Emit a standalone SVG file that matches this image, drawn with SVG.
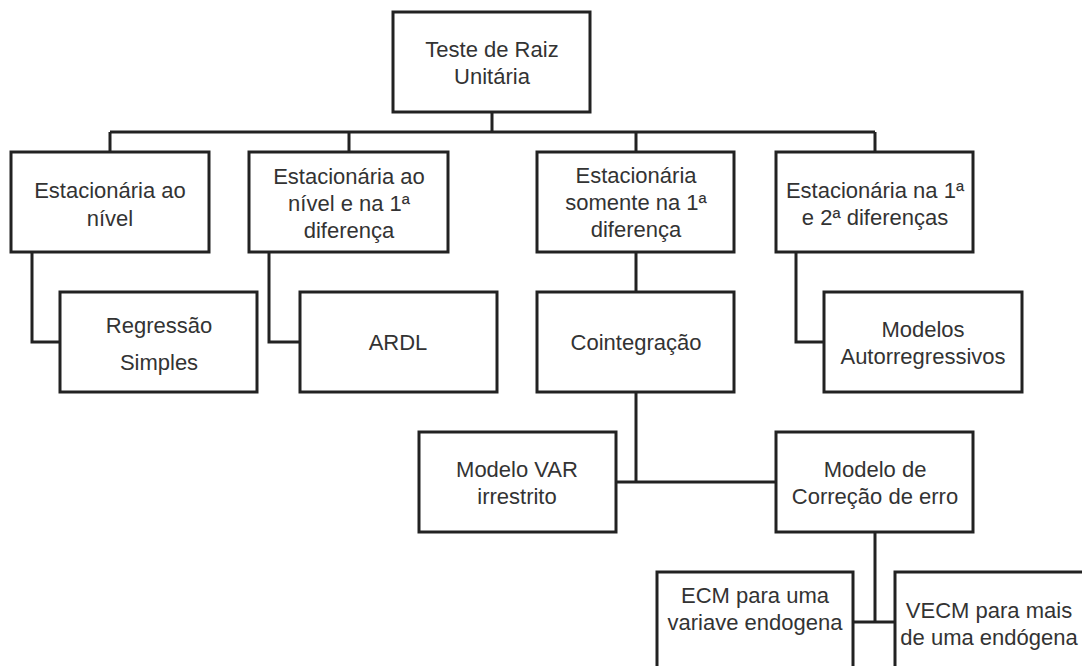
<svg xmlns="http://www.w3.org/2000/svg" width="1082" height="666" viewBox="0 0 1082 666">
<style>
.box{fill:#fff;stroke:#222;stroke-width:3}
.ln{fill:none;stroke:#222;stroke-width:3}
text{font-family:"Liberation Sans",Arial,sans-serif;font-size:22px;fill:#333;text-anchor:middle}
</style>
<rect width="1082" height="666" fill="#fff"/>
<g id="connectors">
<path class="ln" d="M492 112V132M110 132H875M110 132V152M349 132V152M636 132V152M875 132V152"/>
<path class="ln" d="M32 252V342H60M269 252V342H300M796 252V342H824M636 252V292"/>
<path class="ln" d="M636 392V482M616 482H776M875 532V622M853 622H895"/>
</g>
<g id="root"><rect class="box" x="393" y="12" width="197" height="100"/><text x="492" y="57">Teste de Raiz</text><text x="492" y="84">Unitária</text></g>
<g id="n1"><rect class="box" x="11" y="152" width="198" height="100"/><text x="110" y="198">Estacionária ao</text><text x="110" y="226">nível</text></g>
<g id="n2"><rect class="box" x="249" y="152" width="199" height="100"/><text x="349" y="184">Estacionária ao</text><text x="349" y="211">nível e na 1ª</text><text x="349" y="238">diferença</text></g>
<g id="n3"><rect class="box" x="537" y="152" width="197" height="100"/><text x="636" y="183">Estacionária</text><text x="636" y="210">somente na 1ª</text><text x="636" y="237">diferença</text></g>
<g id="n4"><rect class="box" x="776" y="152" width="197" height="100"/><text x="875" y="198">Estacionária na 1ª</text><text x="875" y="225">e 2ª diferenças</text></g>
<g id="n5"><rect class="box" x="60" y="292" width="197" height="100"/><text x="159" y="333">Regressão</text><text x="159" y="370">Simples</text></g>
<g id="n6"><rect class="box" x="300" y="292" width="197" height="100"/><text x="398" y="350">ARDL</text></g>
<g id="n7"><rect class="box" x="537" y="292" width="197" height="100"/><text x="636" y="350">Cointegração</text></g>
<g id="n8"><rect class="box" x="824" y="292" width="198" height="100"/><text x="923" y="337">Modelos</text><text x="923" y="364">Autorregressivos</text></g>
<g id="n9"><rect class="box" x="419" y="432" width="197" height="100"/><text x="517" y="477">Modelo VAR</text><text x="517" y="504">irrestrito</text></g>
<g id="n10"><rect class="box" x="776" y="432" width="197" height="100"/><text x="875" y="477">Modelo de</text><text x="875" y="504">Correção de erro</text></g>
<g id="n11"><rect class="box" x="657" y="572" width="196" height="110"/><text x="755" y="603">ECM para uma</text><text x="755" y="630">variave endogena</text></g>
<g id="n12"><rect class="box" x="895" y="572" width="197" height="110"/><text x="989" y="618">VECM para mais</text><text x="989" y="645">de uma endógena</text></g>
</svg>
